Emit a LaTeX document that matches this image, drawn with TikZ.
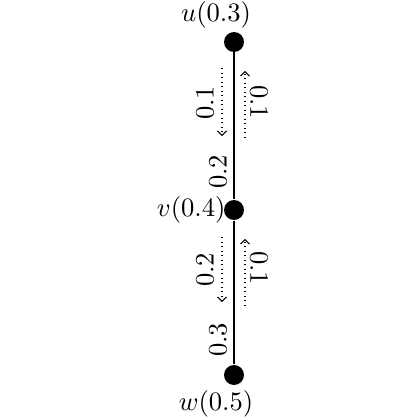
\documentclass[tikz,border=0pt]{standalone}
\usetikzlibrary{arrows.meta}
\begin{document}
\begin{tikzpicture}[x=0.376pt,y=-0.376pt,
  vert/.style={circle,fill=black,inner sep=0pt,minimum size=7.5pt},
  edge/.style={line width=0.75pt},
  flow/.style={dash pattern=on 0.4pt off 1.3pt,-{Straight Barb[length=1.6pt,width=3.4pt]},line width=0.4pt},
  lbl/.style={inner sep=0pt}]
\useasboundingbox (0,0) rectangle (420,420);
\node[vert] (u) at (234,42) {};
\node[vert] (v) at (234,210) {};
\node[vert] (w) at (234,375) {};
\node[lbl] (ul) at (216,15) {$u(0.3)$};
\node[lbl,anchor=east] (vl) at (226,210) {$v(0.4)$};
\node[lbl] (wl) at (216,404) {$w(0.5)$};
\draw[edge] (u) -- (v) -- (w);
% upper segment
\coordinate (a1) at (222,68); \coordinate (a2) at (222,136);
\coordinate (b1) at (245,138); \coordinate (b2) at (245,71);
\draw[flow] (a1) -- (a2);
\draw[flow] (b1) -- (b2);
\node[lbl,rotate=90] (l1) at (205,103) {$0.1$};
\node[lbl,rotate=-90] (r1) at (259,102) {$0.1$};
\node[lbl,rotate=90] (m1) at (218,172) {$0.2$};
% lower segment
\coordinate (c1) at (222,237); \coordinate (c2) at (222,302);
\coordinate (d1) at (245,306); \coordinate (d2) at (245,239);
\draw[flow] (c1) -- (c2);
\draw[flow] (d1) -- (d2);
\node[lbl,rotate=90] (l2) at (205,270) {$0.2$};
\node[lbl,rotate=-90] (r2) at (259,268) {$0.1$};
\node[lbl,rotate=90] (m2) at (218,340) {$0.3$};
\end{tikzpicture}
\end{document}
